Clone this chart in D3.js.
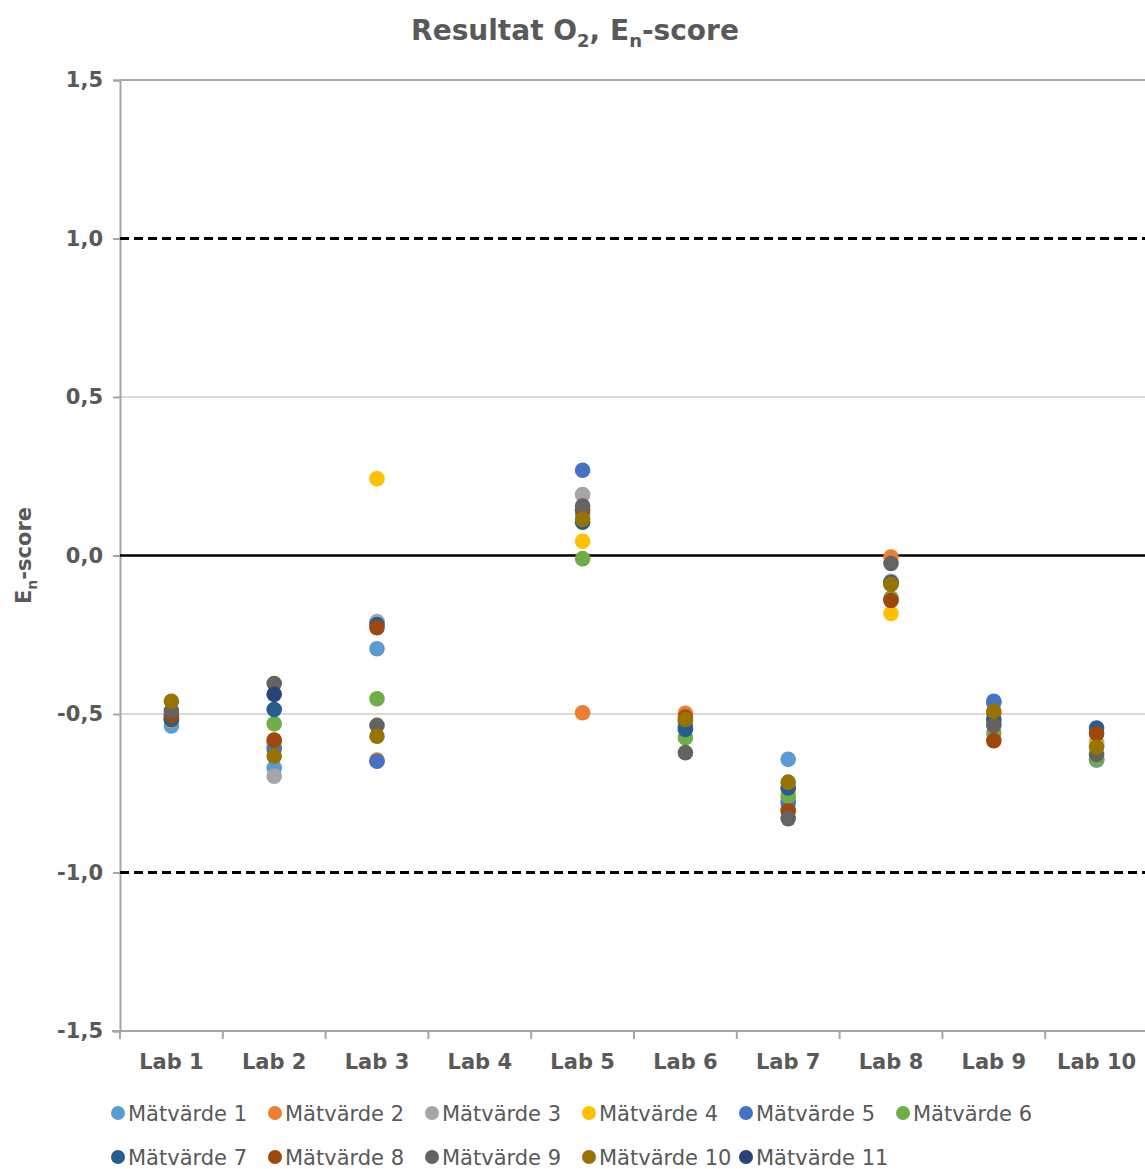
<!DOCTYPE html>
<html>
<head>
<meta charset="utf-8">
<script src="https://cdn.jsdelivr.net/npm/d3@7"></script>
<style>
  html, body { margin: 0; padding: 0; background: #fff; }
  svg { display: block; }
  text { font-family: "DejaVu Sans", "Liberation Sans", sans-serif; fill: #595959; }
</style>
</head>
<body>
<svg id="chart" width="1145" height="1169"></svg>
<script>
// Laboratories on the x axis
const labs = ["Lab 1", "Lab 2", "Lab 3", "Lab 4", "Lab 5", "Lab 6", "Lab 7", "Lab 8", "Lab 9", "Lab 10"];

// Series names and colours
const seriesNames = ["Mätvärde 1", "Mätvärde 2", "Mätvärde 3", "Mätvärde 4", "Mätvärde 5", "Mätvärde 6",
                     "Mätvärde 7", "Mätvärde 8", "Mätvärde 9", "Mätvärde 10", "Mätvärde 11"];
const seriesColors = ["#5B9BD5", "#ED7D31", "#A5A5A5", "#FFC000", "#4472C4", "#70AD47",
                      "#255E91", "#9E480E", "#636363", "#997300", "#264478"];

// En-score per series, one value per lab (Lab 4 reported nothing)
const m1  = [-0.538, -0.670, -0.294, null,  0.130, -0.530, -0.643, -0.140, -0.465, -0.640];
const m2  = [-0.520, -0.590, -0.645, null, -0.496, -0.498, -0.800, -0.005, -0.500, -0.600];
const m3  = [-0.500, -0.696, -0.208, null,  0.192, -0.520, -0.770, -0.081, -0.530, -0.590];
const m4  = [-0.520, -0.600,  0.242, null,  0.045, -0.525, -0.740, -0.183, -0.520, -0.600];
const m5  = [-0.515, -0.610, -0.649, null,  0.269, -0.540, -0.780, -0.090, -0.460, -0.645];
const m6  = [-0.510, -0.531, -0.452, null, -0.010, -0.575, -0.759, -0.134, -0.560, -0.643];
const m7  = [-0.518, -0.486, -0.218, null,  0.105, -0.549, -0.733, -0.085, -0.517, -0.544];
const m8  = [-0.505, -0.582, -0.228, null,  0.143, -0.510, -0.806, -0.142, -0.584, -0.562];
const m9  = [-0.490, -0.404, -0.536, null,  0.156, -0.622, -0.830, -0.025, -0.536, -0.628];
const m10 = [-0.460, -0.633, -0.570, null,  0.114, -0.517, -0.715, -0.091, -0.491, -0.604];
const m11 = [null,   -0.438,  null,  null,  null,   null,   null,   null,   null,   null];
const seriesValues = [m1, m2, m3, m4, m5, m6, m7, m8, m9, m10, m11];

// Y axis ticks and reference lines
const yTicks = [-1.5, -1.0, -0.5, 0, 0.5, 1.0, 1.5];
const limitLines = [-1, 1];

const svg = d3.select("#chart");
const plot = { left: 120, right: 1145, top: 80, bottom: 1031 };

const x = d3.scaleBand().domain(labs).range([plot.left, 1148]);
const y = d3.scaleLinear().domain([-1.5, 1.5]).range([plot.bottom, plot.top]);

const fmt = v => d3.format(".1f")(v).replace(".", ",").replace("−", "-");

// Horizontal gridlines
svg.append("g").selectAll("line").data(yTicks.filter(t => t !== 0 && Math.abs(t) !== 1 && t !== -1.5))
  .join("line")
  .attr("x1", plot.left).attr("x2", plot.right)
  .attr("y1", d => y(d)).attr("y2", d => y(d))
  .attr("stroke", d => d === 1.5 ? "#a6a6a6" : "#d9d9d9")
  .attr("stroke-width", 2);

// Y axis
const yAxis = svg.append("g").attr("transform", `translate(${plot.left},0)`)
  .call(d3.axisLeft(y).tickValues(yTicks).tickSize(7).tickPadding(10).tickFormat(fmt));
yAxis.select(".domain").attr("stroke", "#a6a6a6").attr("stroke-width", 2);
yAxis.selectAll(".tick line").attr("stroke", "#a6a6a6").attr("stroke-width", 2);
yAxis.selectAll(".tick text")
  .style("font-family", "'DejaVu Sans', sans-serif")
  .attr("font-size", 21).attr("font-weight", "bold").attr("fill", "#595959");

// X axis with boundary ticks
const xAxis = svg.append("g").attr("transform", `translate(0,${plot.bottom})`);
xAxis.append("line").attr("x1", plot.left - 8).attr("x2", plot.right)
  .attr("y1", 0).attr("y2", 0).attr("stroke", "#a6a6a6").attr("stroke-width", 2);
const bounds = labs.map(l => x(l));
xAxis.selectAll("line.tk").data(bounds).join("line").attr("class", "tk")
  .attr("x1", d => d).attr("x2", d => d).attr("y1", 0).attr("y2", 8)
  .attr("stroke", "#a6a6a6").attr("stroke-width", 2);
xAxis.selectAll("text").data(labs).join("text")
  .attr("x", d => x(d) + x.bandwidth() / 2).attr("y", 38)
  .attr("text-anchor", "middle")
  .attr("font-size", 21).attr("font-weight", "bold")
  .text(d => d);

// Zero line
svg.append("line")
  .attr("x1", plot.left).attr("x2", plot.right)
  .attr("y1", y(0)).attr("y2", y(0))
  .attr("stroke", "#000").attr("stroke-width", 2.5);

// Limit lines at ±1
svg.append("g").selectAll("line").data(limitLines).join("line")
  .attr("x1", plot.left).attr("x2", plot.right)
  .attr("y1", d => y(d)).attr("y2", d => y(d))
  .attr("stroke", "#000").attr("stroke-width", 3)
  .attr("stroke-dasharray", "9,5");

// Points, series 1 drawn first so later series sit on top
const points = svg.append("g");
seriesValues.forEach((vals, si) => {
  points.append("g").selectAll("circle")
    .data(vals.map((v, i) => ({ lab: labs[i], v })).filter(d => d.v !== null))
    .join("circle")
    .attr("cx", d => x(d.lab) + x.bandwidth() / 2)
    .attr("cy", d => y(d.v))
    .attr("r", 7.8)
    .attr("fill", seriesColors[si]);
});

// Title
const title = svg.append("text")
  .attr("x", 575).attr("y", 40).attr("text-anchor", "middle")
  .attr("font-size", 28).attr("font-weight", "bold");
title.append("tspan").text("Resultat O");
title.append("tspan").attr("font-size", 18).attr("dy", 7).text("2");
title.append("tspan").attr("dy", -7).text(", E");
title.append("tspan").attr("font-size", 18).attr("dy", 7).text("n");
title.append("tspan").attr("dy", -7).text("-score");

// Y axis title
const yTitle = svg.append("text")
  .attr("transform", `translate(31,${y(0)}) rotate(-90)`)
  .attr("text-anchor", "middle")
  .attr("font-size", 21).attr("font-weight", "bold");
yTitle.append("tspan").text("E");
yTitle.append("tspan").attr("font-size", 14).attr("dy", 6).text("n");
yTitle.append("tspan").attr("dy", -6).text("-score");

// Legend, two rows
const legend = svg.append("g");
const legendItems = seriesNames.map((n, i) => ({ n, c: seriesColors[i], row: i < 6 ? 0 : 1, col: i < 6 ? i : i - 6 }));
const li = legend.selectAll("g").data(legendItems).join("g")
  .attr("transform", d => `translate(${118 + d.col * 157},${1113 + d.row * 44})`);
li.append("circle").attr("r", 7).attr("fill", d => d.c);
li.append("text").attr("x", 10).attr("y", 8)
  .attr("font-size", 21).text(d => d.n);
</script>
</body>
</html>
